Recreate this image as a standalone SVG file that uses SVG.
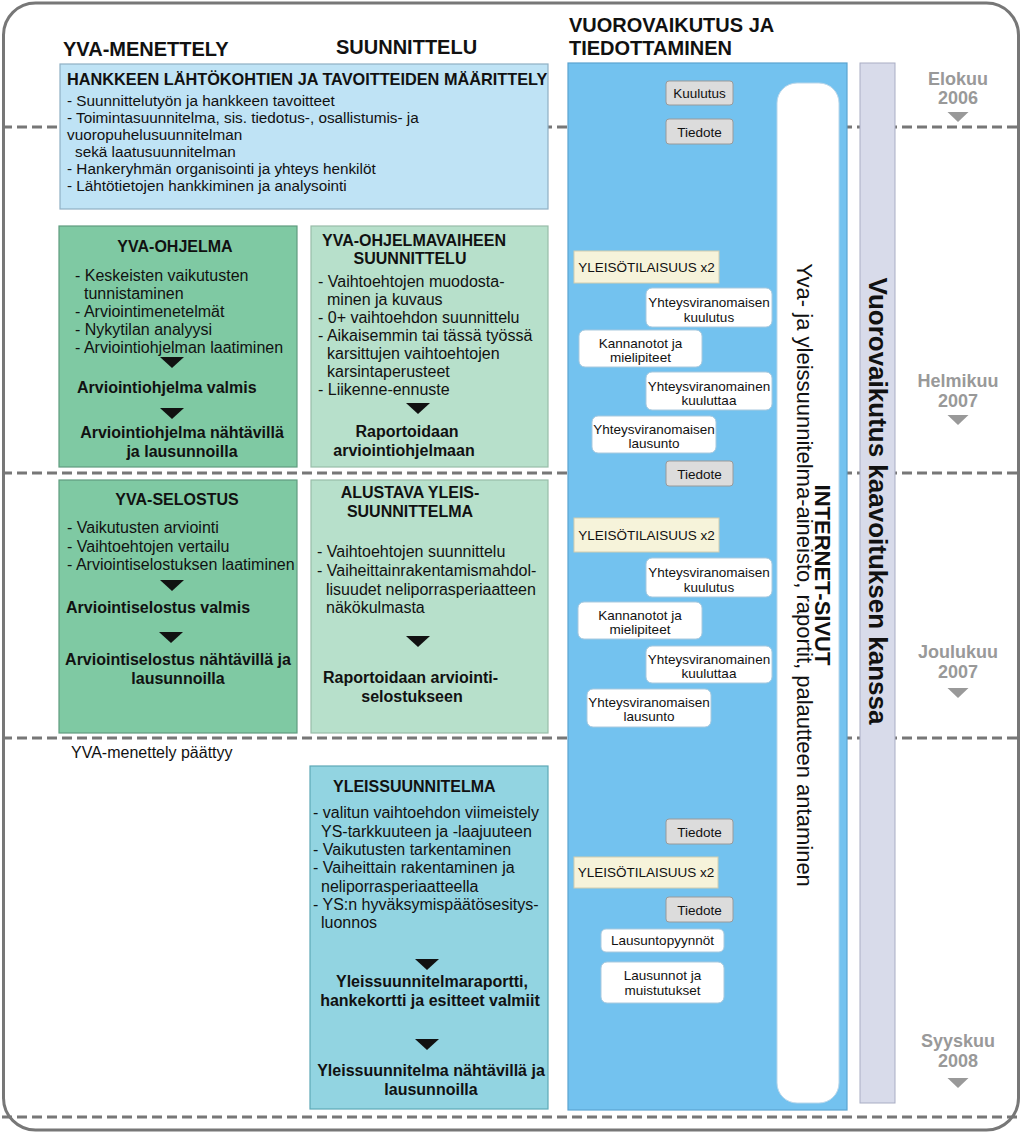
<svg xmlns="http://www.w3.org/2000/svg" width="1024" height="1133" viewBox="0 0 1024 1133">
<style>
text{font-family:"Liberation Sans",Arial,sans-serif;fill:#111}
.hd{font-size:20px;font-weight:bold}
.t15{font-size:15.3px}
.t16{font-size:16px}
.b16{font-size:16px;font-weight:bold}
.ttl{font-size:16.3px;font-weight:bold}
.c{text-anchor:middle}
.s{font-size:13.5px;text-anchor:middle}
.tl{font-size:18px;font-weight:bold;fill:#999;text-anchor:middle}
.dash{stroke:#777;stroke-width:3;stroke-dasharray:10 5;fill:none}
.gray{fill:#dcdcdc;stroke:#9a9a9a;stroke-width:1}
.cream{fill:#f6f3da;stroke:#d2cdb0;stroke-width:1}
.wht{fill:#fff;stroke:#a9c9de;stroke-width:1}
</style>
<defs>
<path id="tri" d="M-12,0 L12,0 L0,11 Z" fill="#111"/>
<path id="gtri" d="M-10.5,0 L10.5,0 L0,10 Z" fill="#999"/>
</defs>
<rect x="0" y="0" width="1024" height="1133" fill="#fff"/>
<g id="grid">
<line class="dash" x1="2" y1="127" x2="1020" y2="127"/>
<line class="dash" x1="2" y1="473" x2="1020" y2="473"/>
<line class="dash" x1="2" y1="738" x2="1020" y2="738"/>
<line class="dash" x1="2" y1="1117" x2="1020" y2="1117"/>
<rect x="3.5" y="3" width="1015" height="1127" rx="32" fill="none" stroke="#777" stroke-width="3"/>
</g>
<g id="headings">
<text class="hd" x="63" y="56">YVA-MENETTELY</text>
<text class="hd" x="336" y="54">SUUNNITTELU</text>
<text class="hd" x="569" y="32">VUOROVAIKUTUS JA</text>
<text class="hd" x="569" y="55">TIEDOTTAMINEN</text>
</g>
<g id="lahtokohdat">
<rect x="60" y="64" width="488" height="145" fill="#bfe3f5" stroke="#8fb0c4" stroke-width="1.2"/>
<text class="ttl" x="67" y="85">HANKKEEN LÄHTÖKOHTIEN JA TAVOITTEIDEN MÄÄRITTELY</text>
<text class="t15" x="67" y="106">- Suunnittelutyön ja hankkeen tavoitteet</text>
<text class="t15" x="67" y="123">- Toimintasuunnitelma, sis. tiedotus-, osallistumis- ja</text>
<text class="t15" x="67" y="140">vuoropuhelusuunnitelman</text>
<text class="t15" x="75" y="157">sekä laatusuunnitelman</text>
<text class="t15" x="67" y="174">- Hankeryhmän organisointi ja yhteys henkilöt</text>
<text class="t15" x="67" y="191">- Lähtötietojen hankkiminen ja analysointi</text>
</g>
<g id="yva-ohjelma">
<rect x="59" y="226" width="238" height="241" fill="#7fc9a3" stroke="#5f9c7f" stroke-width="1.2"/>
<text class="b16 c" x="175" y="252">YVA-OHJELMA</text>
<text class="t16" x="75" y="281">- Keskeisten vaikutusten</text>
<text class="t16" x="84" y="299">tunnistaminen</text>
<text class="t16" x="75" y="317">- Arviointimenetelmät</text>
<text class="t16" x="75" y="335">- Nykytilan analyysi</text>
<text class="t16" x="75" y="353">- Arviointiohjelman laatiminen</text>
<text class="b16" x="77" y="393">Arviointiohjelma valmis</text>
<text class="b16 c" x="182" y="438">Arviointiohjelma nähtävillä</text>
<text class="b16 c" x="182" y="457">ja lausunnoilla</text>
</g>
<g id="ohjelmavaihe">
<rect x="311" y="226" width="237" height="241" fill="#b7e0cb" stroke="#98bca9" stroke-width="1.2"/>
<text class="b16" x="322" y="246">YVA-OHJELMAVAIHEEN</text>
<text class="b16 c" x="410" y="264">SUUNNITTELU</text>
<text class="t16" x="318" y="287">- Vaihtoehtojen muodosta-</text>
<text class="t16" x="327" y="305">minen ja kuvaus</text>
<text class="t16" x="318" y="323">- 0+ vaihtoehdon suunnittelu</text>
<text class="t16" x="318" y="341">- Aikaisemmin tai tässä työssä</text>
<text class="t16" x="327" y="359">karsittujen vaihtoehtojen</text>
<text class="t16" x="327" y="377">karsintaperusteet</text>
<text class="t16" x="318" y="395">- Liikenne-ennuste</text>
<text class="b16 c" x="407" y="437">Raportoidaan</text>
<text class="b16 c" x="404" y="456">arviointiohjelmaan</text>
</g>
<g id="yva-selostus">
<rect x="59" y="480" width="238" height="253" fill="#7fc9a3" stroke="#5f9c7f" stroke-width="1.2"/>
<text class="b16 c" x="177" y="505">YVA-SELOSTUS</text>
<text class="t16" x="67" y="533">- Vaikutusten arviointi</text>
<text class="t16" x="67" y="552">- Vaihtoehtojen vertailu</text>
<text class="t16" x="67" y="570">- Arviointiselostuksen laatiminen</text>
<text class="b16" x="66" y="613">Arviointiselostus valmis</text>
<text class="b16 c" x="178" y="665">Arviointiselostus nähtävillä ja</text>
<text class="b16 c" x="178" y="684">lausunnoilla</text>
</g>
<g id="alustava">
<rect x="311" y="480" width="237" height="253" fill="#b7e0cb" stroke="#98bca9" stroke-width="1.2"/>
<text class="b16 c" x="410" y="498">ALUSTAVA YLEIS-</text>
<text class="b16 c" x="410" y="517">SUUNNITTELMA</text>
<text class="t16" x="317" y="557">- Vaihtoehtojen suunnittelu</text>
<text class="t16" x="317" y="576">- Vaiheittainrakentamismahdol-</text>
<text class="t16" x="326" y="595">lisuudet neliporrasperiaatteen</text>
<text class="t16" x="326" y="613">näkökulmasta</text>
<text class="b16" x="323" y="683">Raportoidaan arviointi-</text>
<text class="b16 c" x="412" y="702">selostukseen</text>
</g>
<g id="paattyy">
<text class="t16" x="71" y="758">YVA-menettely päättyy</text>
</g>
<g id="yleissuunnitelma">
<rect x="310" y="766" width="238" height="343" fill="#92d4e1" stroke="#5ea8b6" stroke-width="1.2"/>
<text class="b16" x="333" y="792">YLEISSUUNNITELMA</text>
<text class="t16" x="313" y="818">- valitun vaihtoehdon viimeistely</text>
<text class="t16" x="321" y="837">YS-tarkkuuteen ja -laajuuteen</text>
<text class="t16" x="313" y="855">- Vaikutusten tarkentaminen</text>
<text class="t16" x="313" y="873">- Vaiheittain rakentaminen ja</text>
<text class="t16" x="321" y="892">neliporrasperiaatteella</text>
<text class="t16" x="313" y="910">- YS:n hyväksymispäätösesitys-</text>
<text class="t16" x="321" y="928">luonnos</text>
<text class="b16 c" x="432" y="987">Yleissuunnitelmaraportti,</text>
<text class="b16 c" x="430" y="1006">hankekortti ja esitteet valmiit</text>
<text class="b16 c" x="431" y="1076">Yleissuunnitelma nähtävillä ja</text>
<text class="b16 c" x="431" y="1095">lausunnoilla</text>
</g>
<g id="vuorovaikutus">
<rect x="568" y="63" width="279" height="1047" fill="#73c2ef" stroke="#5aa3d0" stroke-width="1.2"/>
</g>
<g id="internet">
<rect x="777" y="83" width="62" height="1020" rx="20" fill="#fff" stroke="#b9d6ea" stroke-width="1"/>
<text transform="translate(815,575) rotate(90)" text-anchor="middle" style="font-size:22px;font-weight:bold">INTERNET-SIVUT</text>
<text transform="translate(797,575) rotate(90)" text-anchor="middle" style="font-size:22px">Yva- ja yleissuunnitelma-aineisto, raportit, palautteen antaminen</text>
</g>
<g id="kaavoitus">
<rect x="860" y="63" width="35" height="1040" fill="#d8dbea" stroke="#a9adc4" stroke-width="1"/>
<text transform="translate(869,501) rotate(90)" text-anchor="middle" style="font-size:26px;font-weight:bold">Vuorovaikutus kaavoituksen kanssa</text>
</g>
<g id="events">
<g id="kuulutus"><rect class="gray" x="666" y="81" width="67" height="24" rx="3"/><text class="s" x="699.5" y="98">Kuulutus</text></g>
<g id="tiedote1"><rect class="gray" x="666" y="119" width="67" height="25" rx="3"/><text class="s" x="699.5" y="137">Tiedote</text></g>
<g id="yleiso1"><rect class="cream" x="574" y="251" width="145" height="32"/><text class="s" x="646.5" y="272">YLEISÖTILAISUUS x2</text></g>
<g id="yk1"><rect class="wht" x="646" y="288" width="126" height="39" rx="6"/><text class="s" x="709" y="307">Yhteysviranomaisen</text><text class="s" x="709" y="322">kuulutus</text></g>
<g id="km1"><rect class="wht" x="579" y="330" width="123" height="37" rx="6"/><text class="s" x="640.5" y="348">Kannanotot ja</text><text class="s" x="640.5" y="362">mielipiteet</text></g>
<g id="ykt1"><rect class="wht" x="646" y="372" width="126" height="38" rx="6"/><text class="s" x="709" y="391">Yhteysviranomainen</text><text class="s" x="709" y="405">kuuluttaa</text></g>
<g id="yl1"><rect class="wht" x="592" y="416" width="124" height="37" rx="6"/><text class="s" x="654" y="434">Yhteysviranomaisen</text><text class="s" x="654" y="448">lausunto</text></g>
<g id="tiedote2"><rect class="gray" x="666" y="461" width="67" height="25" rx="3"/><text class="s" x="699.5" y="479">Tiedote</text></g>
<g id="yleiso2"><rect class="cream" x="574" y="518" width="145" height="34"/><text class="s" x="646.5" y="540">YLEISÖTILAISUUS x2</text></g>
<g id="yk2"><rect class="wht" x="646" y="558" width="126" height="39" rx="6"/><text class="s" x="709" y="577">Yhteysviranomaisen</text><text class="s" x="709" y="592">kuulutus</text></g>
<g id="km2"><rect class="wht" x="578" y="602" width="124" height="37" rx="6"/><text class="s" x="640" y="620">Kannanotot ja</text><text class="s" x="640" y="634">mielipiteet</text></g>
<g id="ykt2"><rect class="wht" x="646" y="646" width="126" height="37" rx="6"/><text class="s" x="709" y="664">Yhteysviranomainen</text><text class="s" x="709" y="678">kuuluttaa</text></g>
<g id="yl2"><rect class="wht" x="587" y="689" width="124" height="38" rx="6"/><text class="s" x="649" y="707">Yhteysviranomaisen</text><text class="s" x="649" y="721">lausunto</text></g>
<g id="tiedote3"><rect class="gray" x="666" y="819" width="67" height="25" rx="3"/><text class="s" x="699.5" y="837">Tiedote</text></g>
<g id="yleiso3"><rect class="cream" x="574" y="857" width="144" height="31"/><text class="s" x="646" y="877">YLEISÖTILAISUUS x2</text></g>
<g id="tiedote4"><rect class="gray" x="666" y="897" width="67" height="25" rx="3"/><text class="s" x="699.5" y="915">Tiedote</text></g>
<g id="lausuntopyynnot"><rect class="wht" x="601" y="929" width="123" height="23" rx="5"/><text class="s" x="662.5" y="945">Lausuntopyynnöt</text></g>
<g id="lausunnot"><rect class="wht" x="601" y="962" width="123" height="41" rx="6"/><text class="s" x="662.5" y="980">Lausunnot ja</text><text class="s" x="662.5" y="995">muistutukset</text></g>
</g>
<g id="timeline">
<text class="tl" x="958" y="85">Elokuu</text><text class="tl" x="958" y="104">2006</text><use href="#gtri" x="958" y="112"/>
<text class="tl" x="958" y="387">Helmikuu</text><text class="tl" x="958" y="407">2007</text><use href="#gtri" x="958" y="415"/>
<text class="tl" x="958" y="658">Joulukuu</text><text class="tl" x="958" y="678">2007</text><use href="#gtri" x="958" y="688"/>
<text class="tl" x="958" y="1047">Syyskuu</text><text class="tl" x="958" y="1067">2008</text><use href="#gtri" x="958" y="1078"/>
</g>
<g id="connectors">
<use href="#tri" x="172" y="357"/>
<use href="#tri" x="172" y="408"/>
<use href="#tri" x="418" y="403"/>
<use href="#tri" x="172" y="580"/>
<use href="#tri" x="171" y="632"/>
<use href="#tri" x="418" y="636"/>
<use href="#tri" x="427" y="959"/>
<use href="#tri" x="427" y="1039"/>
</g>
</svg>
